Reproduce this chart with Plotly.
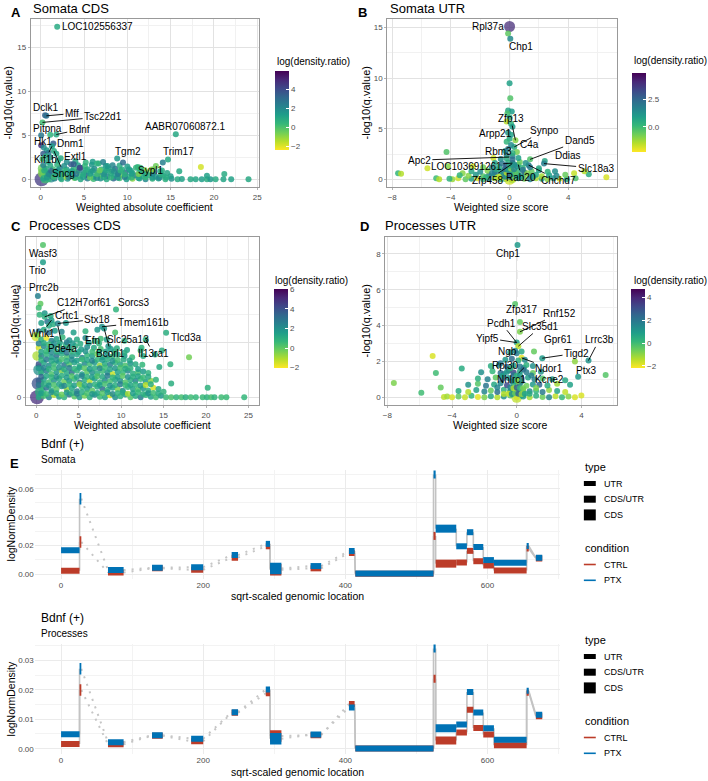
import plotly.graph_objects as go

W, H = 708, 781
FONT = "Liberation Sans, Arial, sans-serif"
NARROW = "Liberation Sans Narrow, Liberation Sans, Arial, sans-serif"

# ---------------- Panel A: Somata CDS ----------------
A_X = [
    0.3, 0.9, 1.6, 2.4, 3.1, 3.9, 4.6, 5.4, 6.1, 6.9,
    7.6, 8.4, 9.1, 9.9, 10.6, 11.4, 12.1, 12.9, 13.6, 14.4,
    15.1, 15.8, 16.3, 17.3, 17.9, 18.6, 19.2, 19.6, 20.2, 21.1,
    22.0, 24.0,
    0.5, 1.3, 2.1, 2.9, 3.7, 4.5, 5.3, 6.1, 6.9, 7.7,
    8.5, 9.3, 10.1, 10.9, 11.7, 12.5, 13.3, 14.1, 15.0, 16.0,
    19.2, 21.2,
    0.2, 1.0, 1.8, 2.6, 3.4, 4.2, 5.0, 5.8, 6.6, 7.4,
    8.2, 9.0, 9.8, 10.6, 11.4, 12.2, 13.0, 13.8, 14.6,
    0.6, 1.4, 2.2, 3.0, 3.8, 4.6, 5.4, 6.2, 7.0, 7.8,
    8.6, 9.4, 10.2, 11.0, 12.0, 13.0, 14.0,
    0.3, 1.1, 1.9, 2.7, 3.5, 4.3, 5.1, 5.9, 6.7, 7.5,
    8.3, 9.1, 10.0, 11.2,
    0.8, 2.0, 3.0, 4.0, 5.2, 6.0, 7.2,
    0.7, 1.5, 2.3, 3.2, 4.0, 4.9, 5.7, 6.5, 7.3, 8.1,
    8.9, 9.7, 10.5, 11.3, 12.1, 12.9, 13.7, 14.5,
    0.9, 1.7, 2.5, 3.3, 4.1, 4.9, 5.7, 6.5, 7.3, 8.1,
    8.9, 9.7, 10.5, 11.3, 12.1, 12.9, 13.9,
    0.4, 1.2, 2.0, 2.8, 3.6, 4.4, 5.2, 6.0, 6.8, 7.6,
    8.4, 9.2, 10.4, 11.6,
    1.9, 0.5, 0.65, 0.2, 0.05, 1.1, 1.8, 15.6, 0.05, 1.45,
    1.3, 1.53, 0.35, 0.7, 0.9, 0.3, 0.6, 1.1, 1.8, 0.2,
    2.3, 8.83, 14.7, 14.1, 18.5, 9.5, 3.8, 4.5, 11.5, 13.3,
    12.8, 7.7, 6.5,
]
A_Y = [
    0.05, 0.0, 0.1, 0.0, 0.05, 0.15, 0.0, 0.1, 0.02, 0.1,
    0.0, 0.08, 0.12, 0.0, 0.05, 0.1, 0.0, 0.06, 0.1, 0.0,
    0.05, 0.0, 0.02, 0.0, 0.0, 0.0, 0.0, 0.0, 0.0, 0.0,
    0.0, 0.0,
    0.45, 0.35, 0.5, 0.3, 0.42, 0.38, 0.5, 0.3, 0.45, 0.35,
    0.4, 0.5, 0.3, 0.42, 0.35, 0.45, 0.3, 0.4, 0.35, 0.9,
    0.4, 0.6,
    0.8, 0.75, 0.85, 0.7, 0.8, 0.9, 0.75, 0.85, 0.7, 0.8,
    0.9, 0.75, 0.8, 0.7, 0.85, 0.8, 0.75, 0.9, 0.7,
    1.2, 1.15, 1.25, 1.1, 1.2, 1.3, 1.15, 1.2, 1.1, 1.25,
    1.2, 1.1, 1.15, 1.3, 1.05, 1.1, 1.0,
    1.6, 1.55, 1.65, 1.5, 1.7, 1.6, 1.5, 1.65, 1.8, 1.5,
    1.6, 1.55, 1.45, 1.4,
    2.0, 2.1, 1.95, 2.05, 1.9, 2.0, 1.95,
    0.2, 0.25, 0.15, 0.22, 0.18, 0.25, 0.2, 0.15, 0.22, 0.2,
    0.18, 0.25, 0.2, 0.15, 0.22, 0.2, 0.18, 0.2,
    0.6, 0.62, 0.58, 0.65, 0.6, 0.55, 0.62, 0.6, 0.58, 0.65,
    0.6, 0.55, 0.62, 0.6, 0.58, 0.6, 0.55,
    1.0, 0.98, 1.02, 1.0, 0.95, 1.0, 1.05, 0.98, 1.0, 1.02,
    0.96, 1.0, 0.98, 1.0,
    17.3, 7.25, 7.2, 6.45, 5.0, 5.05, 5.08, 5.11, 3.85, 4.05,
    3.75, 3.2, 3.6, 3.3, 3.0, 2.9, 2.6, 2.5, 2.9, 2.3,
    2.4, 2.35, 2.24, 1.9, 1.4, 1.9, 1.7, 1.3, 1.3, 1.5,
    1.1, 1.5, 1.8,
]
A_C = [
    1.2, 0.5, 2.1, 0.8, 1.5, -0.6, 1.0, 2.4, 0.3, 1.7,
    0.9, 3.1, 0.2, 1.4, -0.9, 1.1, 2.0, 0.6, 1.3, 0.7,
    1.8, 0.9, 1.2, 1.0, 1.1, 1.3, 0.8, 1.5, 0.9, 1.1,
    1.2, 1.0,
    0.3, 2.5, 1.0, -1.2, 1.8, 0.6, 3.3, 1.2, 0.1, 2.2,
    1.4, -0.4, 0.9, 2.7, 1.1, 0.4, 1.6, 0.8, 1.3, 1.0,
    1.2, 0.9,
    -0.5, 1.5, 0.4, 2.8, 1.0, -1.0, 1.9, 0.7, 2.4, 1.2,
    0.2, 1.6, 3.0, 0.8, 1.3, -0.2, 1.7, 0.9, 1.1,
    1.0, 0.2, 2.6, 1.4, 0.5, 4.2, 1.1, 2.0, 0.6, 1.5,
    2.9, 0.9, 1.2, 0.5, -0.9, 1.3, 0.8,
    2.2, 1.0, 0.6, 1.8, 3.5, 1.2, 0.4, 1.6, 0.7, 1.5,
    2.1, 0.9, 1.3, 0.5,
    1.2, 0.8, 1.9, 1.1, 0.6, 1.4, 2.2,
    1.6, 0.3, 1.1, 2.2, 0.8, 1.4, -0.3, 1.9, 1.0, 0.5,
    1.7, 2.4, 0.7, 1.2, 0.4, 1.5, 2.0, 0.9,
    2.0, 1.1, 0.6, 1.5, 2.6, 0.9, 1.3, 0.2, 1.8, 1.0,
    2.3, 0.7, 1.4, -0.6, 1.1, 1.9, 0.8,
    0.9, 3.0, 1.4, 0.5, 1.2, 2.0, 0.8, 1.6, -0.4, 1.1,
    1.8, 0.6, 1.3, 1.0,
    0.9, 3.3, 2.8, 0.2, 2.6, 0.5, 0.9, 1.0, 4.8, 3.5,
    1.3, 0.8, 2.0, 1.5, 2.5, 3.5, 0.9, 1.8, 1.1, 0.3,
    1.0, 1.6, 1.0, 2.3, -1.8, 3.0, 3.5, 4.2, 0.5, -0.5,
    -0.9, 1.5, 0.7,
]
A_BIG_X = [0.1, 0.3, 0.8, 0.2, 0.5, 1.2]
A_BIG_Y = [0.0, 0.7, 0.4, 1.2, 0.05, 0.1]
A_BIG_C = [4.5, -0.8, 0.5, -0.5, 0.2, 2.0]
A_BIG_N = [6, 4, 3, 3, 3, 2]
A_LAB = ["LOC102556337", "Dclk1", "Mff", "Tsc22d1", "Pitpna", "Bdnf", "Hk1", "Dnm1",
         "Kif1b", "Extl1", "Sncg", "Tgm2", "AABR07060872.1", "Trim17", "Sypl1"]
A_LAB_X = [6.5, 0.54, 3.6, 7.2, 0.82, 4.45, 0.25, 3.44, 0.54, 4.07, 2.67, 10.1, 16.7, 15.9, 12.7]
A_LAB_Y = [17.3, 8.15, 7.45, 7.1, 5.75, 5.64, 4.24, 4.05, 2.27, 2.53, 0.64, 3.18, 5.95, 3.18, 1.02]
A_PT_X = [None, None, 0.65, 0.2, None, 1.8, None, None, 1.3, None, 1.53, None, None, None, None]
A_PT_Y = [None, None, 7.2, 6.45, None, 5.08, None, None, 3.75, None, 3.2, None, None, None, None]

# ---------------- Panel B: Somata UTR ----------------
B_X = [
    -0.1, 0.05, 0.0, 0.05, -0.1, 0.15, -0.15, 0.0, -0.2, 0.1,
    0.2, 0.4, 0.32, 0.0, -0.1, 0.1, -0.2, 0.5, 1.4, 2.4,
    2.35, 1.3, -4.3, -4.2, -5.6, -7.6, -7.4, -5.0, -3.9, 5.4,
    6.6, 5.1, 4.4, -2.5, -3.2, -1.1, 0.2, -0.3, 0.1, -0.1,
    0.2, -0.2, 0.6, 0.2,
    -4.8, -4.1, -3.5, -3.0, -2.6, -2.2, -1.8, -1.4, -1.0, -0.6,
    -0.2, 0.2, 0.6, 1.0, 1.4, 1.8, 2.2, 2.6, 3.0, 3.4,
    3.9, 4.5,
    -3.4, -2.8, -2.3, -1.8, -1.4, -1.0, -0.6, -0.2, 0.2, 0.6,
    1.0, 1.4, 1.8, 2.2, 2.7, 3.2, 3.8,
    -2.6, -2.0, -1.5, -1.0, -0.6, -0.2, 0.2, 0.6, 1.0, 1.5,
    2.0, 2.6, 3.1,
    -1.8, -1.2, -0.7, -0.3, 0.1, 0.5, 0.9, 1.4, 2.0,
    -1.0, -0.5, -0.1, 0.3, 0.7, 1.1,
    -0.6, -0.2, 0.2, 0.6,
    -0.5, -0.3, -0.1, 0.1, 0.3, 0.5, -0.4, -0.2, 0.0, 0.2,
    0.4, -0.3, -0.1, 0.1, 0.3, -0.2, 0.0, 0.2, -0.8, 0.8,
    -1.2, 1.2, -1.6, 1.6, -0.9, 0.9,
]
B_Y = [
    14.4, 13.9, 9.5, 8.0, 6.8, 6.7, 6.5, 6.1, 5.7, 5.5,
    5.2, 3.85, 3.2, 4.0, 4.6, 4.4, 3.7, 2.7, 1.97, 1.8,
    1.55, 1.4, 2.7, 1.3, 1.1, 0.6, 0.55, 0.1, 0.0, 0.5,
    0.2, 0.8, 0.6, 1.3, 0.6, 2.1, 2.3, 2.8, 3.4, 3.0,
    2.6, 2.4, 1.45, 1.6,
    0.0, 0.05, 0.1, 0.0, 0.05, 0.1, 0.0, 0.05, 0.1, 0.0,
    0.05, 0.0, 0.1, 0.05, 0.0, 0.1, 0.05, 0.0, 0.1, 0.05,
    0.0, 0.1,
    0.4, 0.35, 0.45, 0.3, 0.4, 0.5, 0.35, 0.45, 0.3, 0.4,
    0.5, 0.35, 0.45, 0.3, 0.4, 0.35, 0.45,
    0.8, 0.75, 0.85, 0.7, 0.8, 0.9, 0.75, 0.85, 0.7, 0.8,
    0.9, 0.75, 0.8,
    1.2, 1.15, 1.25, 1.1, 1.2, 1.3, 1.15, 1.2, 1.1,
    1.6, 1.55, 1.65, 1.5, 1.7, 1.6,
    2.0, 2.05, 1.95, 2.1,
    0.2, 0.25, 0.3, 0.2, 0.25, 0.3, 0.6, 0.65, 0.6, 0.55,
    0.65, 1.0, 0.95, 1.05, 1.0, 1.4, 1.35, 1.45, 0.2, 0.25,
    0.6, 0.6, 0.2, 0.25, 1.0, 0.95,
]
B_C = [
    -0.5, 1.5, 0.8, -0.3, 0.7, 0.9, -0.2, 0.5, -1.5, 0.3,
    1.0, -1.0, 0.5, 0.6, 1.2, 0.8, 0.2, -0.8, -0.3, 0.6,
    1.8, 2.0, -0.3, -1.0, -1.8, 0.2, -1.5, 0.0, -1.2, 0.5,
    -1.9, -1.5, -1.7, -1.8, -1.0, -1.8, 1.6, 1.0, 1.4, 2.0,
    0.4, 1.8, 0.8, 1.2,
    -1.5, 0.3, -1.8, -0.5, 0.8, -1.9, 0.2, 1.5, -1.2, 0.6,
    -1.8, -1.6, 0.9, -0.7, 1.8, -1.4, 0.4, -1.0, 1.2, -1.7,
    0.5, -0.3,
    0.2, -1.0, 1.1, -0.4, 2.0, 0.5, -1.6, 1.5, 2.6, 0.1,
    -0.8, 1.4, 0.7, -1.3, 0.9, 1.6, -0.6,
    0.6, 1.3, -0.9, 2.2, 0.9, -0.2, 1.8, 0.4, 2.5, -0.5,
    1.0, 0.3, 1.4,
    -0.7, 1.6, 0.5, 2.4, -1.5, 1.1, 0.2, 1.9, 0.6,
    0.8, 2.1, 0.3, 1.5, -0.6, 1.2,
    1.4, 0.5, 2.3, 0.9,
    -1.2, 1.8, 0.5, 2.6, -0.8, 1.2, 1.5, -1.5, 3.0, 0.7,
    -0.4, 2.2, 0.9, -1.0, 1.6, 2.8, 0.4, 1.3, -1.6, 0.9,
    1.7, -0.9, 0.3, 1.1, 0.6, 2.0,
]
B_BIG_X = [0.0, 0.0, 0.2, -0.3, 0.1]
B_BIG_Y = [15.1, 0.0, 0.1, 0.2, 0.6]
B_BIG_C = [4.0, -1.8, -1.2, -0.5, -1.6]
B_BIG_N = [4, 4, 3, 3, 3]
B_LAB = ["Rpl37a", "Chp1", "Zfp13", "Arpp21", "Synpo", "C4a", "Dand5", "Ddias", "Rbm3",
         "Apc2", "LOC103691261", "Slc18a3", "Zfp458", "Rab20", "Chchd7"]
B_LAB_X = [-1.5, 0.75, 0.08, -0.97, 2.35, 1.34, 4.78, 3.96, -0.73, -6.15, -2.96, 5.9, -1.5, 0.8, 3.35]
B_LAB_Y = [15.1, 13.1, 6.0, 4.5, 4.8, 3.4, 3.8, 2.4, 2.7, 1.9, 1.3, 1.1, -0.1, 0.2, -0.1]
B_PT_X = [None, None, 0.4, None, 0.32, None, 1.4, None, None, 0.0, 0.2, 2.35, 0.15, 0.6, 1.3]
B_PT_Y = [None, None, 3.85, None, 3.2, None, 1.97, None, None, 2.2, 1.6, 1.55, 1.5, 1.45, 1.4]

# ---------------- Panel C: Processes CDS ----------------
C_X = [
    0.3, 0.9, 1.5, 2.1, 2.7, 3.3, 3.9, 4.5, 5.1, 5.7,
    6.3, 6.9, 7.5, 8.1, 8.7, 9.3, 9.9, 10.5, 11.1, 11.7,
    12.3, 12.9, 13.5, 14.1, 14.7, 15.3, 15.9, 16.5, 17.1, 17.6,
    18.2, 18.8, 19.6, 20.1, 20.6, 21.0, 21.8, 22.4, 24.5,
    0.6, 1.2, 1.8, 2.4, 3.0, 3.6, 4.2, 4.8, 5.4, 6.0,
    6.6, 7.2, 7.8, 8.4, 9.0, 9.6, 10.2, 10.8, 11.4, 12.0,
    12.6, 13.2, 13.8, 14.4, 15.0, 20.2,
    0.3, 0.9, 1.5, 2.1, 2.7, 3.3, 3.9, 4.5, 5.1, 5.7,
    6.3, 6.9, 7.5, 8.1, 8.7, 9.3, 9.9, 10.5, 11.1, 11.7,
    12.3, 12.9, 13.5, 14.1, 15.9,
    0.6, 1.2, 1.8, 2.4, 3.0, 3.6, 4.2, 4.8, 5.4, 6.0,
    6.6, 7.2, 7.8, 8.4, 9.0, 9.6, 10.2, 10.8, 11.4, 12.0,
    12.6, 13.2,
    0.3, 0.9, 1.5, 2.1, 2.7, 3.3, 3.9, 4.5, 5.1, 5.7,
    6.3, 6.9, 7.5, 8.1, 8.7, 9.3, 9.9, 10.5, 11.1, 11.7,
    12.5, 14.5, 15.8,
    0.6, 1.2, 1.8, 2.4, 3.0, 3.6, 4.2, 4.8, 5.4, 6.0,
    6.6, 7.2, 7.8, 8.4, 9.0, 9.6, 10.4, 11.3, 12.6, 14.0,
    18.0,
    0.3, 0.9, 1.5, 2.1, 2.7, 3.3, 3.9, 4.6, 5.3, 6.0,
    6.8, 7.6, 8.5, 9.5, 10.7, 12.4, 14.8,
    0.6, 1.2, 1.8, 2.4, 3.1, 3.9, 4.8, 5.8, 6.9, 8.3,
    10.4,
    0.3, 0.9, 1.5, 2.2, 3.0, 4.4, 5.8, 7.2, 9.3,
    0.6, 1.3, 2.0, 3.5,
    0.4, 1.0, 1.7,
    0.6, 1.2, 1.8, 2.4, 3.0, 3.6, 4.2, 4.8, 5.4, 6.0,
    6.6, 7.2, 7.8, 8.4, 9.0, 9.6, 10.2, 10.8, 11.4, 12.0,
    12.6, 13.2, 13.8, 14.4,
    0.3, 0.9, 1.5, 2.1, 2.7, 3.3, 3.9, 4.5, 5.1, 5.7,
    6.3, 6.9, 7.5, 8.1, 8.7, 9.3, 9.9, 10.5, 11.1, 11.7,
    12.3, 12.9, 13.5,
    0.6, 1.2, 1.8, 2.4, 3.0, 3.6, 4.2, 4.8, 5.4, 6.0,
    6.6, 7.2, 7.8, 8.4, 9.0, 9.6, 10.2, 10.8, 11.4, 12.0,
    12.6, 13.2,
    0.3, 0.9, 1.5, 2.1, 2.7, 3.3, 3.9, 4.5, 5.1, 5.7,
    6.3, 6.9, 7.5, 8.1, 8.7, 9.3, 9.9, 10.5, 11.1, 12.0,
    0.6, 1.2, 1.8, 2.4, 3.0, 3.6, 4.2, 4.8, 5.4, 6.0,
    6.6, 7.2, 7.8, 8.4, 9.0, 9.6, 10.3, 11.0,
    0.6, 1.2, 1.8, 2.4, 3.0, 3.6, 4.2, 5.0, 5.8, 6.6,
    7.4, 8.2, 9.2, 10.4,
    0.3, 0.9, 1.5, 2.1, 2.8, 3.5, 4.3, 5.2, 6.2, 7.4,
    0.8, 0.8, 0.2, 0.5, 0.3, 1.0, 9.4, 2.55, 7.75, 7.6,
    15.3, 3.6, 12.3, 8.8, 0.1, 1.5, 12.9, 1.8, 8.0,
]
C_Y = [
    0.0, 0.05, 0.0, 0.08, 0.02, 0.0, 0.1, 0.03, 0.0, 0.06,
    0.0, 0.09, 0.02, 0.0, 0.07, 0.0, 0.04, 0.1, 0.0, 0.05,
    0.0, 0.08, 0.02, 0.0, 0.06, 0.0, 0.0, 0.0, 0.0, 0.0,
    0.0, 0.0, 0.0, 0.0, 0.0, 0.0, 0.0, 0.0, 0.0,
    0.3, 0.35, 0.25, 0.3, 0.4, 0.28, 0.33, 0.22, 0.36, 0.3,
    0.25, 0.38, 0.3, 0.27, 0.35, 0.3, 0.24, 0.37, 0.3, 0.28,
    0.33, 0.25, 0.35, 0.3, 0.2, 0.35,
    0.6, 0.65, 0.55, 0.62, 0.68, 0.57, 0.6, 0.66, 0.54, 0.63,
    0.6, 0.67, 0.55, 0.62, 0.58, 0.65, 0.6, 0.55, 0.63, 0.6,
    0.66, 0.56, 0.6, 0.64, 0.5,
    0.9, 0.95, 0.85, 0.92, 0.97, 0.88, 0.9, 0.96, 0.84, 0.93,
    0.9, 0.87, 0.95, 0.9, 0.85, 0.93, 0.9, 0.96, 0.86, 0.9,
    0.94, 0.88,
    1.2, 1.25, 1.15, 1.22, 1.28, 1.17, 1.2, 1.26, 1.14, 1.23,
    1.2, 1.27, 1.15, 1.22, 1.18, 1.25, 1.2, 1.15, 1.23, 1.2,
    1.18, 1.1, 1.2,
    1.5, 1.55, 1.45, 1.52, 1.58, 1.47, 1.5, 1.56, 1.44, 1.53,
    1.5, 1.57, 1.45, 1.52, 1.48, 1.55, 1.5, 1.45, 1.5, 1.55,
    1.45,
    1.8, 1.85, 1.75, 1.82, 1.88, 1.77, 1.8, 1.86, 1.74, 1.83,
    1.8, 1.75, 1.85, 1.78, 1.72, 1.8, 1.7,
    2.1, 2.15, 2.05, 2.12, 2.18, 2.07, 2.1, 2.15, 2.05, 2.1,
    2.05,
    2.4, 2.45, 2.35, 2.42, 2.38, 2.35, 2.4, 2.45, 2.35,
    2.7, 2.75, 2.65, 2.7,
    3.0, 3.05, 2.95,
    0.15, 0.12, 0.18, 0.15, 0.1, 0.17, 0.15, 0.13, 0.18, 0.15,
    0.12, 0.16, 0.15, 0.18, 0.12, 0.15, 0.17, 0.13, 0.15, 0.18,
    0.12, 0.15, 0.16, 0.14,
    0.45, 0.47, 0.43, 0.45, 0.48, 0.42, 0.46, 0.44, 0.47, 0.45,
    0.43, 0.46, 0.45, 0.48, 0.42, 0.45, 0.47, 0.44, 0.45, 0.46,
    0.43, 0.45, 0.47,
    0.75, 0.77, 0.73, 0.75, 0.78, 0.72, 0.76, 0.74, 0.77, 0.75,
    0.73, 0.76, 0.75, 0.78, 0.72, 0.75, 0.77, 0.74, 0.75, 0.76,
    0.73, 0.75,
    1.05, 1.07, 1.03, 1.05, 1.08, 1.02, 1.06, 1.04, 1.07, 1.05,
    1.03, 1.06, 1.05, 1.08, 1.02, 1.05, 1.07, 1.04, 1.05, 1.03,
    1.35, 1.37, 1.33, 1.35, 1.38, 1.32, 1.36, 1.34, 1.37, 1.35,
    1.33, 1.36, 1.35, 1.38, 1.32, 1.35, 1.37, 1.34,
    1.65, 1.67, 1.63, 1.65, 1.68, 1.62, 1.66, 1.64, 1.67, 1.65,
    1.63, 1.66, 1.65, 1.62,
    1.95, 1.97, 1.93, 1.95, 1.98, 1.92, 1.96, 1.94, 1.97, 1.95,
    5.53, 4.9, 3.68, 3.4, 3.25, 2.92, 3.19, 2.68, 2.56, 2.13,
    2.34, 2.0, 1.7, 1.75, 2.25, 2.6, 2.1, 2.8, 2.5,
]
C_C = [
    1.2, 0.4, 2.3, -1.0, 1.5, 0.8, 2.9, 0.1, 1.7, -0.3,
    1.0, 2.4, 0.6, 1.3, -1.5, 2.0, 0.9, 1.6, 0.2, 1.1,
    2.6, 0.7, 1.4, 0.5, 1.8, 0.6, 0.3, 0.8, 0.4, 1.0,
    0.5, 0.7, 0.6, 0.9, 0.4, 0.8, 0.5, 0.6, 0.7,
    0.7, 3.0, 1.1, 0.2, 1.9, -0.8, 1.3, 2.5, 0.6, 1.6,
    0.1, 1.2, 3.2, 0.8, 1.5, -0.4, 2.1, 0.9, 1.4, 0.3,
    1.7, 1.0, -1.6, 1.2, 0.8, 0.9,
    3.6, 1.4, 0.5, 2.0, 1.1, -0.2, 1.8, 0.7, 2.7, 1.2,
    -1.1, 1.5, 0.9, 2.2, 0.4, 1.3, 1.9, 0.2, 1.0, 2.4,
    0.6, 1.6, -0.6, 0.8, 1.0,
    1.0, 2.6, 0.3, 1.7, -0.5, 1.2, 3.1, 0.8, 1.5, 0.1,
    2.0, 1.1, 0.6, 1.8, -1.3, 1.4, 0.7, 2.3, 1.0, 0.4,
    1.6, 0.9,
    4.0, 1.3, 2.1, 0.6, 1.6, 2.8, 0.2, 1.4, 1.0, 2.2,
    0.5, 1.7, -0.7, 1.2, 2.5, 0.8, 1.4, 0.3, 1.9, 1.1,
    0.7, 1.2, 0.9,
    2.4, 0.8, 1.6, 3.0, 1.1, 0.4, 1.9, 1.3, 2.6, 0.7,
    1.5, -0.2, 1.2, 2.0, 0.9, 1.4, 1.7, 0.6, 1.1, 1.3,
    -0.3,
    -1.5, 2.2, 1.0, 1.7, 0.5, 2.8, 1.3, 0.9, 1.6, 2.1,
    1.2, 0.4, 1.8, 1.0, 1.4, 0.8, 1.1,
    1.1, -1.8, 2.5, 1.4, 0.7, 1.9, 1.2, 2.3, 0.8, 1.5,
    1.0,
    2.8, 1.2, 3.0, 1.6, 2.3, 1.5, 0.9, 1.8, 0.3,
    1.5, 2.9, 1.0, 1.8,
    0.8, 1.8, 1.2,
    1.5, 0.6, 2.0, 1.2, -0.2, 1.7, 0.9, 2.5, 1.1, 0.4,
    1.8, 1.3, 0.2, 1.6, 2.2, 0.8, 1.2, -0.9, 1.5, 0.7,
    1.0, 1.9, 0.5, 1.1,
    2.9, 1.0, 1.8, 0.3, 1.4, 2.3, 0.7, 1.6, -0.5, 1.2,
    2.0, 0.9, 1.5, 0.4, 1.9, 1.1, 2.6, 0.6, 1.3, 0.8,
    1.7, -1.2, 1.0,
    3.4, 1.3, 0.8, 2.1, 1.0, 1.7, 0.2, 1.4, 2.4, 0.9,
    1.6, 0.3, 1.2, 2.7, 0.8, 1.5, 0.1, 1.9, 1.0, 1.4,
    0.6, 1.2,
    1.8, 2.4, 1.0, 0.5, 1.9, 1.2, 2.6, 0.8, 1.4, 0.1,
    1.7, 1.1, 2.2, 0.6, 1.3, 1.8, 0.4, 1.2, 0.9, 1.5,
    0.9, 2.7, 1.3, 1.8, 0.4, 1.1, 2.1, 1.5, 0.6, 1.3,
    2.4, 0.8, 1.6, 1.0, 1.9, 0.5, 1.2, 1.4,
    1.4, 0.7, 2.2, 1.1, 1.6, 2.9, 0.9, 1.3, 1.9, 0.6,
    1.2, 1.5, 0.8, 1.1,
    2.5, 1.2, 0.6, 2.0, 1.4, 0.9, 1.7, 1.1, 1.5, 0.8,
    0.2, 1.5, 2.5, 0.0, 0.5, 1.0, 0.8, 2.3, 2.0, 0.5,
    1.0, 2.6, 1.0, 1.6, -0.5, 1.2, 1.0, 1.5, 1.8,
]
C_BIG_X = [0.1, 0.2, 0.3, 0.1, 0.5, 0.0]
C_BIG_Y = [0.0, 0.5, 1.0, 1.5, 0.2, 2.2]
C_BIG_C = [5.0, 4.0, 2.0, -1.0, 1.0, -1.5]
C_BIG_N = [6, 5, 4, 3, 4, 3]
C_LAB = ["Wasf3", "Trio", "Prrc2b", "C12H7orf61", "Sorcs3", "Crtc1", "Stx18", "Tmem161b",
         "Wnk1", "Efn", "Slc25a13", "Tlcd3a", "Pde4a", "Bcorl1", "Il13ra1"]
C_LAB_X = [0.8, 0.1, 0.9, 5.6, 11.5, 3.66, 7.2, 12.6, 0.63, 6.6, 10.85, 17.6, 3.13, 8.8, 13.8]
C_LAB_Y = [5.22, 4.6, 3.97, 3.44, 3.44, 2.98, 2.84, 2.72, 2.31, 2.07, 2.11, 2.17, 1.77, 1.59, 1.59]
C_PT_X = [None, None, None, 1.0, None, None, 2.55, 7.75, 1.8, None, None, None, 2.55, 8.0, 12.9]
C_PT_Y = [None, None, None, 2.92, None, None, 2.68, 2.56, 2.8, None, None, None, 2.6, 2.5, 2.1]

# ---------------- Panel D: Processes UTR ----------------
D_X = [
    0.05, -0.1, 0.2, 0.2, 0.0, 0.1, 1.07, 1.58, 4.44, 3.6,
    3.8, 5.5, -5.2, -7.6, -5.9, -5.0, -4.7, -3.4, -4.5, -4.3,
    4.0, 0.3, -1.0, -0.5, -0.8, -0.1, 0.45,
    -4.0, -3.6, -3.2, -2.8, -2.4, -2.0, -1.6, -1.2, -0.8, -0.4,
    0.0, 0.4, 0.8, 1.2, 1.6, 2.0, 2.4, 2.8, 3.2, 3.6,
    -3.6, -3.0, -2.5, -2.0, -1.6, -1.2, -0.8, -0.4, 0.0, 0.4,
    0.8, 1.2, 1.6, 2.0, 2.5, 3.0,
    -3.0, -2.4, -1.9, -1.4, -1.0, -0.6, -0.2, 0.2, 0.6, 1.0,
    1.4, 1.9, 2.5, 3.3,
    -2.4, -1.8, -1.3, -0.9, -0.5, -0.1, 0.3, 0.7, 1.1, 1.6,
    2.2, 3.0,
    -2.2, -1.5, -1.0, -0.6, -0.2, 0.2, 0.6, 1.0, 1.5,
    -1.6, -1.1, -0.6, -0.2, 0.2, 0.6, 1.0,
    -0.7, -0.3, 0.1, 0.5,
    -0.4, 0.0, 0.3,
    -0.5, -0.3, -0.1, 0.1, 0.3, 0.5, -0.4, -0.2, 0.0, 0.2,
    0.4, -0.3, -0.1, 0.1, 0.3, -0.2, 0.0, 0.2, -0.8, 0.8,
    -1.2, 1.2, -0.9, 0.9, -0.4, 0.4,
]
D_Y = [
    8.5, 5.2, 4.2, 3.65, 3.05, 2.85, 2.55, 2.18, 2.05, 2.0,
    1.15, 1.25, 2.3, 0.8, 0.25, 1.35, 0.55, 1.6, 0.02, 0.05,
    0.1, 2.2, 1.9, 1.5, 1.3, 2.6, 1.65,
    0.0, 0.05, 0.0, 0.08, 0.02, 0.0, 0.06, 0.0, 0.04, 0.1,
    0.0, 0.05, 0.0, 0.08, 0.02, 0.0, 0.06, 0.0, 0.04, 0.0,
    0.35, 0.3, 0.4, 0.32, 0.38, 0.3, 0.42, 0.35, 0.3, 0.4,
    0.33, 0.37, 0.3, 0.4, 0.35, 0.3,
    0.7, 0.75, 0.65, 0.72, 0.78, 0.67, 0.7, 0.75, 0.65, 0.72,
    0.7, 0.66, 0.75, 0.7,
    1.05, 1.0, 1.1, 1.02, 1.08, 1.0, 1.05, 1.1, 1.0, 1.05,
    1.0, 0.95,
    1.4, 1.45, 1.35, 1.42, 1.38, 1.45, 1.4, 1.35, 1.42,
    1.75, 1.8, 1.7, 1.78, 1.72, 1.8, 1.75,
    2.1, 2.15, 2.05, 2.1,
    2.5, 2.45, 2.55,
    0.2, 0.18, 0.22, 0.2, 0.18, 0.2, 0.55, 0.5, 0.55, 0.52,
    0.5, 0.9, 0.88, 0.92, 0.9, 1.25, 1.2, 1.25, 0.18, 0.2,
    0.55, 0.52, 1.2, 1.22, 1.6, 1.55,
]
D_C = [
    1.0, -0.3, -0.5, -0.8, 0.8, -1.5, -0.5, 1.0, 1.2, -1.0,
    1.0, -0.3, -1.8, -0.8, 0.0, 0.0, -0.5, 0.5, -1.5, -1.2,
    -1.8, -1.9, 2.0, 3.0, 1.5, 1.5, 1.0,
    -1.8, -0.5, -1.6, 0.2, -1.9, -0.8, 0.6, -1.4, 1.2, -0.3,
    -1.7, 0.9, -1.2, 0.4, -0.6, 1.5, -1.5, 0.1, -0.9, -1.8,
    0.5, -1.4, 0.8, 1.6, -0.5, 2.2, 0.3, 1.0, 2.8, -0.8,
    1.4, 0.2, 1.9, -1.0, 0.7, -1.5,
    1.2, -0.3, 2.0, 0.6, 1.5, 3.2, 0.2, 1.8, -0.6, 1.0,
    2.4, 0.5, -1.2, 0.8,
    0.4, 1.7, -0.4, 2.5, 1.1, 0.3, 2.9, 0.8, 1.6, -0.2,
    1.0, 0.6,
    1.3, 0.2, 2.2, 1.0, 3.3, 0.6, 1.8, -0.5, 1.2,
    0.5, 1.6, 2.4, 0.9, 1.9, 0.3, 1.3,
    1.1, 2.3, 0.4, 1.5,
    0.9, 1.8, 0.6,
    -1.6, 1.2, -0.5, 2.4, -1.0, 0.8, 1.5, -1.3, 2.6, 0.2,
    -0.7, 1.8, 0.6, -1.1, 1.4, 2.1, 0.3, 1.0, -1.4, 0.6,
    1.6, -0.8, 0.9, 1.7, 0.4, 2.2,
]
D_BIG_X = [0.0, -0.3, 0.3, 0.1]
D_BIG_Y = [0.0, 0.3, 0.2, 0.9]
D_BIG_C = [-1.5, -1.0, 0.5, -1.8]
D_BIG_N = [4, 3, 3, 3]
D_LAB = ["Chp1", "Zfp317", "Rnf152", "Pcdh1", "Slc35d1", "Yipf5", "Gpr61", "Ngb", "Tigd2",
         "Lrrc3b", "Rpl30", "Ndor1", "Ptx3", "Nhlrc1", "Kcne2"]
D_LAB_X = [-0.55, 0.3, 2.67, -0.95, 1.5, -1.83, 2.58, -0.58, 3.7, 5.1, -0.7, 2.02, 4.3, -0.31, 2.0]
D_LAB_Y = [8.0, 4.88, 4.69, 4.13, 3.95, 3.3, 3.2, 2.55, 2.46, 3.2, 1.8, 1.62, 1.52, 0.97, 0.97]
D_PT_X = [None, None, 0.2, 0.0, 0.1, 0.0, None, None, 1.58, 4.44, None, 0.3, None, 0.45, None]
D_PT_Y = [None, None, 3.65, 3.05, 2.85, 3.05, None, None, 2.18, 2.05, None, 2.2, None, 1.65, None]

# ---------------- Panel E: Bdnf (+) exon densities ----------------
E_START = [0, 26, 66, 128, 183, 240, 288, 294, 351, 405, 414, 524, 527, 556, 571, 580, 594, 609, 655, 668]
E_END = [26, 28.5, 88, 143, 200, 249, 294, 310, 366, 413, 524, 527, 556, 571, 580, 594, 609, 655, 658, 677]
E_TYPE = ["UTR", "CDS", "UTR", "UTR", "UTR", "UTR", "UTR", "CDS", "UTR", "UTR",
          "UTR", "CDS/UTR", "CDS/UTR", "UTR", "UTR", "UTR", "UTR", "UTR", "UTR", "UTR"]
SOMA_CTRL = [0.0023, 0.0225, 0.0010, 0.0040, 0.0030, 0.0115, 0.0195, 0.0030, 0.0040, 0.0148,
             0.0002, 0.0268, 0.0073, 0.0081, 0.0163, 0.0090, 0.0060, 0.0025, 0.0180, 0.0110]
SOMA_PTX = [0.0167, 0.0530, 0.0028, 0.0044, 0.0048, 0.0133, 0.0212, 0.0039, 0.0056, 0.0162,
            0.0003, 0.0700, 0.0319, 0.0195, 0.0294, 0.0190, 0.0098, 0.0079, 0.0197, 0.0114]
PROC_CTRL = [0.0016, 0.0199, 0.0015, 0.0044, 0.0025, 0.0122, 0.0188, 0.0043, 0.0046, 0.0152,
             0.0001, 0.0237, 0.0028, 0.0055, 0.0132, 0.0070, 0.0048, 0.0012, 0.0190, 0.0110]
PROC_PTX = [0.0049, 0.0271, 0.0022, 0.0046, 0.0034, 0.0124, 0.0201, 0.0034, 0.0048, 0.0140,
            0.0001, 0.0340, 0.0069, 0.0082, 0.0192, 0.0123, 0.0069, 0.0030, 0.0197, 0.0115]
TYPES = ["UTR", "CDS/UTR", "CDS"]
CONDITIONS = ["CTRL", "PTX"]

# ======================================================================
fig = go.Figure()
COND_COL = {"CTRL": "#BC3C29", "PTX": "#0072B5"}
TYPE_W = {"UTR": 6, "CDS/UTR": 8, "CDS": 11.5}


def fx(p):
    return p / W


def fy(p):
    return 1 - p / H


def add_scatter(xs, ys, cs, bx, by, bc, bn, k, ca):
    n = min(len(xs), len(ys), len(cs))
    xa, ya = "x" + k, "y" + k
    fig.add_trace(go.Scatter(
        x=bx, y=by, mode="markers", xaxis=xa, yaxis=ya, hoverinfo="skip",
        marker=dict(size=[5 + 1.5 * v for v in bn], color=bc, coloraxis=ca,
                    opacity=0.75, line=dict(width=0))))
    fig.add_trace(go.Scatter(
        x=xs[:n], y=ys[:n], mode="markers", xaxis=xa, yaxis=ya, hoverinfo="skip",
        marker=dict(size=6, color=cs[:n], coloraxis=ca, opacity=0.85, line=dict(width=0))))


add_scatter(A_X, A_Y, A_C, A_BIG_X, A_BIG_Y, A_BIG_C, A_BIG_N, "", "coloraxis")
add_scatter(B_X, B_Y, B_C, B_BIG_X, B_BIG_Y, B_BIG_C, B_BIG_N, "2", "coloraxis2")
add_scatter(C_X, C_Y, C_C, C_BIG_X, C_BIG_Y, C_BIG_C, C_BIG_N, "3", "coloraxis3")
add_scatter(D_X, D_Y, D_C, D_BIG_X, D_BIG_Y, D_BIG_C, D_BIG_N, "4", "coloraxis4")


def add_gene(ctrl, ptx, k):
    xa, ya = "x" + k, "y" + k
    for vals in (ctrl, ptx):
        sx, sy, dx, dy = [], [], [], []
        for i in range(len(vals) - 1):
            seg_x = [E_END[i], E_START[i + 1], None]
            seg_y = [vals[i], vals[i + 1], None]
            if E_START[i + 1] - E_END[i] < 15:
                sx += seg_x
                sy += seg_y
            else:
                dx += seg_x
                dy += seg_y
        fig.add_trace(go.Scatter(x=sx, y=sy, mode="lines", xaxis=xa, yaxis=ya, hoverinfo="skip",
                                 line=dict(color="#c3c3c3", width=1.6)))
        fig.add_trace(go.Scatter(x=dx, y=dy, mode="lines", xaxis=xa, yaxis=ya, hoverinfo="skip",
                                 line=dict(color="#c6c6c6", width=2, dash="2px,6px")))
    for cond, vals in zip(CONDITIONS, (ctrl, ptx)):
        for t in TYPES:
            xs, ys = [], []
            for s, e, tp, v in zip(E_START, E_END, E_TYPE, vals):
                if tp == t:
                    xs += [s, e, None]
                    ys += [v, v, None]
            if xs:
                fig.add_trace(go.Scatter(x=xs, y=ys, mode="lines", xaxis=xa, yaxis=ya,
                                         hoverinfo="skip",
                                         line=dict(color=COND_COL[cond], width=TYPE_W[t])))


add_gene(SOMA_CTRL, SOMA_PTX, "5")
add_gene(PROC_CTRL, PROC_PTX, "6")

# ---------------- axes ----------------
TICKF = dict(size=8, color="#4d4d4d", family=FONT)


def sc_axes(k, px0, px1, py0, py1, xr, yr, xt, xm, yt, ym):
    common = dict(showgrid=True, gridcolor="#e2e2e2", gridwidth=0.8, zeroline=False,
                  showline=True, mirror=True, linecolor="#999999", linewidth=1,
                  ticks="outside", ticklen=2, tickcolor="#b3b3b3", tickfont=TICKF,
                  fixedrange=True)
    fig.layout["xaxis" + k] = dict(domain=[fx(px0), fx(px1)], range=xr, anchor="y" + k,
                                   tickmode="array", tickvals=xt,
                                   minor=dict(tickmode="array", tickvals=xm, showgrid=True,
                                              gridcolor="#f1f1f1", gridwidth=0.5, ticks=""),
                                   **common)
    fig.layout["yaxis" + k] = dict(domain=[fy(py1), fy(py0)], range=yr, anchor="x" + k,
                                   tickmode="array", tickvals=yt,
                                   minor=dict(tickmode="array", tickvals=ym, showgrid=True,
                                              gridcolor="#f1f1f1", gridwidth=0.5, ticks=""),
                                   **common)


sc_axes("", 29, 259, 19, 187, [-1.15, 25.23], [-0.875, 18.18],
        [0, 5, 10, 15, 20, 25], [2.5, 7.5, 12.5, 17.5, 22.5], [0, 5, 10, 15], [2.5, 7.5, 12.5, 17.5])
sc_axes("2", 388, 619, 19, 187, [-8.34, 7.3], [-0.76, 15.84],
        [-8, -4, 0, 4], [-6, -2, 2, 6], [0, 5, 10, 15], [2.5, 7.5, 12.5])
sc_axes("3", 24, 259, 237, 405, [-1.22, 26.26], [-0.28, 5.82],
        [0, 5, 10, 15, 20, 25], [2.5, 7.5, 12.5, 17.5, 22.5], [0, 2, 4], [1, 3, 5])
sc_axes("4", 386, 619, 237, 405, [-8.13, 6.18], [-0.43, 8.94],
        [-8, -4, 0, 4], [-6, -2, 2, 6], [0, 2, 4, 6, 8], [1, 3, 5, 7])


def gene_axes(k, py0, py1, yr, yt, ym):
    common = dict(showgrid=True, gridcolor="#ebebeb", gridwidth=0.9, zeroline=False,
                  showline=False, ticks="", tickfont=dict(size=8, color="#4d4d4d", family=NARROW),
                  fixedrange=True)
    fig.layout["xaxis" + k] = dict(domain=[fx(33), fx(562)], range=[-37, 702], anchor="y" + k,
                                   tickmode="array", tickvals=[0, 200, 400, 600],
                                   minor=dict(tickmode="array", tickvals=[100, 300, 500, 700],
                                              showgrid=True, gridcolor="#f3f3f3", gridwidth=0.6),
                                   **common)
    fig.layout["yaxis" + k] = dict(domain=[fy(py1), fy(py0)], range=yr, anchor="x" + k,
                                   tickmode="array", tickvals=yt,
                                   ticktext=["%.2f" % v for v in yt],
                                   minor=dict(tickmode="array", tickvals=ym,
                                              showgrid=True, gridcolor="#f3f3f3", gridwidth=0.6),
                                   **common)


gene_axes("5", 469.5, 579, [-0.0035, 0.0735], [0, 0.02, 0.04, 0.06], [0.01, 0.03, 0.05, 0.07])
gene_axes("6", 643.5, 753.7, [-0.0017, 0.0357], [0, 0.01, 0.02, 0.03],
          [0.005, 0.015, 0.025, 0.035])

# ---------------- colour axes ----------------


def cax(px0, py0, cmin, cmax, tv, tt=None):
    cb = dict(x=fx(px0), xanchor="left", y=fy(py0), yanchor="top", len=79, lenmode="pixels",
              thickness=14, thicknessmode="pixels", outlinewidth=0, xpad=0, ypad=0,
              ticks="inside", ticklen=3, tickcolor="white", tickwidth=1,
              tickmode="array", tickvals=tv, tickfont=dict(size=8, color="#4d4d4d", family=FONT))
    if tt:
        cb["ticktext"] = tt
    return dict(colorscale="Viridis", reversescale=True, cmin=cmin, cmax=cmax, colorbar=cb)


fig.update_layout(
    coloraxis=cax(275, 71, -2.35, 5.92, [-2, 0, 2, 4]),
    coloraxis2=cax(634, 73, -2.32, 4.92, [0, 2.5], ["0.0", "2.5"]),
    coloraxis3=cax(274, 289, -2.05, 6.05, [-2, 0, 2, 4, 6]),
    coloraxis4=cax(633, 289, -2.18, 4.75, [-2, 0, 2, 4]),
)

# ---------------- annotations ----------------
ann = []


def ptext(x, y, text, size, anchor="left", angle=0, bold=False, family=FONT, color="black"):
    ann.append(dict(x=fx(x), y=fy(y), xref="paper", yref="paper",
                    text=("<b>%s</b>" % text) if bold else text,
                    showarrow=False, xanchor=anchor, yanchor="middle", textangle=angle,
                    font=dict(size=size, color=color, family=family)))


for L, lx, ly in (("A", 7, 12), ("B", 357, 12), ("C", 7, 227), ("D", 359, 227), ("E", 6, 463)):
    ptext(lx, ly, L, 13, bold=True)
ptext(29, 8, "Somata CDS", 13)
ptext(389, 8, "Somata UTR", 13)
ptext(25, 225, "Processes CDS", 13)
ptext(384, 225, "Processes UTR", 13)

ptext(144, 206.5, "Weighted absolute coefficient", 10.5, anchor="center")
ptext(503.5, 206.5, "Weighted size score", 10.5, anchor="center")
ptext(141.5, 424.5, "Weighted absolute coefficient", 10.5, anchor="center")
ptext(502.5, 424.5, "Weighted size score", 10.5, anchor="center")
ptext(6.5, 103, "-log10(q.value)", 11, anchor="center", angle=-90)
ptext(367, 103, "-log10(q.value)", 11, anchor="center", angle=-90)
ptext(13, 321, "-log10(q.value)", 11, anchor="center", angle=-90)
ptext(367, 321, "-log10(q.value)", 11, anchor="center", angle=-90)

ptext(275, 62, "log(density.ratio)", 10)
ptext(634, 61, "log(density.ratio)", 10)
ptext(273, 281, "log(density.ratio)", 10)
ptext(634, 281, "log(density.ratio)", 10)

ptext(37, 444, "Bdnf (+)", 12, family=NARROW)
ptext(37, 459, "Somata", 10, family=NARROW)
ptext(37, 618, "Bdnf (+)", 12, family=NARROW)
ptext(37, 633, "Processes", 10, family=NARROW)
ptext(297.5, 596, "sqrt-scaled genomic location", 10.5, anchor="center", family=NARROW)
ptext(297.5, 772, "sqrt-scaled genomic location", 10.5, anchor="center", family=NARROW)
ptext(9.5, 524, "logNormDensity", 10.5, anchor="center", angle=-90, family=NARROW)
ptext(9.5, 699, "logNormDensity", 10.5, anchor="center", angle=-90, family=NARROW)


def gene_labels(labs, lx, ly, ptx, pty, k):
    for t, x, y, px_, py_ in zip(labs, lx, ly, ptx, pty):
        if px_ is None:
            ann.append(dict(x=x, y=y, xref="x" + k, yref="y" + k, text=t, showarrow=False,
                            xanchor="center", yanchor="middle",
                            font=dict(size=10, color="black", family=FONT)))
        else:
            ann.append(dict(x=px_, y=py_, ax=x, ay=y, xref="x" + k, yref="y" + k,
                            axref="x" + k, ayref="y" + k, text=t, showarrow=True,
                            arrowhead=0, arrowwidth=0.9, arrowcolor="black", standoff=0,
                            xanchor="center", yanchor="middle",
                            font=dict(size=10, color="black", family=FONT)))


gene_labels(A_LAB, A_LAB_X, A_LAB_Y, A_PT_X, A_PT_Y, "")
gene_labels(B_LAB, B_LAB_X, B_LAB_Y, B_PT_X, B_PT_Y, "2")
gene_labels(C_LAB, C_LAB_X, C_LAB_Y, C_PT_X, C_PT_Y, "3")
gene_labels(D_LAB, D_LAB_X, D_LAB_Y, D_PT_X, D_PT_Y, "4")

# ---------------- shapes ----------------
shapes = []
for k in ("2", "4"):
    shapes.append(dict(type="line", xref="x" + k, yref="y%s domain" % k, x0=0, x1=0, y0=0, y1=1,
                       line=dict(color="#aaaaaa", width=1, dash="dash"), layer="below"))

KEY_H = {"UTR": 5, "CDS/UTR": 7, "CDS": 11}


def gene_legend(top):
    ptext(585, top, "type", 11, family=NARROW)
    for i, t in enumerate(TYPES):
        yc = top + 16.5 + 15.7 * i
        h = KEY_H[t]
        shapes.append(dict(type="rect", xref="paper", yref="paper", x0=fx(586), x1=fx(598),
                           y0=fy(yc + h / 2), y1=fy(yc - h / 2), fillcolor="black",
                           line=dict(width=0)))
        ptext(604, yc, t, 9, family=NARROW)
    ptext(585, top + 81, "condition", 11, family=NARROW)
    for i, c in enumerate(CONDITIONS):
        yc = top + 97.5 + 15.8 * i
        shapes.append(dict(type="line", xref="paper", yref="paper", x0=fx(586), x1=fx(598),
                           y0=fy(yc), y1=fy(yc), line=dict(color=COND_COL[c], width=1.6)))
        ptext(604, yc, c, 9, family=NARROW)


gene_legend(467)
gene_legend(640)

fig.update_layout(
    width=W, height=H, margin=dict(l=0, r=0, t=0, b=0),
    plot_bgcolor="white", paper_bgcolor="white", showlegend=False,
    font=dict(family=FONT), annotations=ann, shapes=shapes,
)

fig.write_html("out.html", config={"displayModeBar": False},
               post_script="document.body.style.margin='0px';")
